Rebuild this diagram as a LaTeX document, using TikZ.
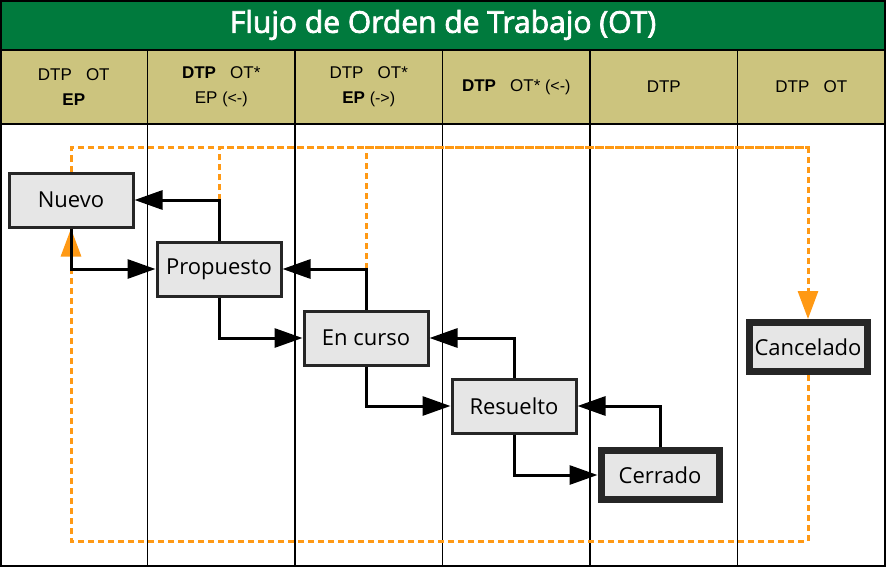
\documentclass[tikz,border=0pt]{standalone}
\usepackage{fontspec}
\usepackage{tikz}
\usepackage{xcolor}
\usetikzlibrary{arrows.meta}
\setmainfont{Open Sans}
\newfontfamily\headfont{Liberation Sans}
\newfontfamily\titlefont[FakeBold=2.5]{Open Sans}

\definecolor{otgreen}{RGB}{0,122,61}
\definecolor{otkhaki}{RGB}{204,196,126}
\definecolor{otgray}{RGB}{230,230,230}
\definecolor{otorange}{RGB}{255,153,20}

\begin{document}
\begin{tikzpicture}[x=1pt,y=-1pt,
  estado/.style={draw=black!85,fill=otgray,line width=3pt,minimum width=124pt,minimum height=54pt,
    font=\fontsize{22}{26}\selectfont},
  estadofinal/.style={estado,line width=7pt,minimum width=118pt,minimum height=49pt},
  flow/.style={line width=3pt,-{Triangle[length=28pt,width=19pt]}},
  cancelflow/.style={otorange,line width=3pt,dash pattern=on 6pt off 4pt,-{Triangle[length=28pt,width=20pt]}},
  cancelline/.style={otorange,line width=3pt,dash pattern=on 6pt off 4pt},
  headtxt/.style={align=center,font=\headfont\fontsize{17}{25}\selectfont}]
\useasboundingbox (0,0) rectangle (886,567);
% title and lane heads
\fill[otgreen] (0,0) rectangle (886,50);
\node[text=white,font=\titlefont\fontsize{30}{36}\selectfont] (titulo) at (443,25) {Flujo de Orden de Trabajo (OT)};
\fill[otkhaki] (0,50) rectangle (886,124);
\draw[line width=1.5pt] (0,50) -- (886,50);
\draw[line width=1.5pt] (0,124) -- (886,124);
\foreach \i in {1,...,5}
  \draw[line width=1.5pt] (\i*147.5,50) -- (\i*147.5,567);
\draw[line width=2.5pt] (1,1) rectangle (885,566);
\node[headtxt] (h1) at (73.75,87) {DTP\ \ \ OT\\\textbf{EP}};
\node[headtxt] (h2) at (221.25,87) {\textbf{DTP}\ \ \ OT*\\EP {\fontsize{16}{25}\selectfont(<-)}};
\node[headtxt] (h3) at (368.75,87) {DTP\ \ \ OT*\\\textbf{EP} {\fontsize{16}{25}\selectfont(->)}};
\node[headtxt] (h4) at (516.25,87) {\textbf{DTP}\ \ \ OT* {\fontsize{16}{25}\selectfont(<-)}};
\node[headtxt] (h5) at (663.75,87) {DTP};
\node[headtxt] (h6) at (811.25,87) {DTP\ \ \ OT};
% states
\node[estado] (nuevo) at (71,200) {Nuevo};
\node[estado] (propuesto) at (219,269) {Propuesto};
\node[estado] (encurso) at (366,338) {En curso};
\node[estado] (resuelto) at (514,406) {Resuelto};
\node[estadofinal] (cerrado) at (660,475) {Cerrado};
\node[estadofinal] (cancelado) at (808,347) {Cancelado};
\coordinate (arriba) at (0,148);
\coordinate (abajo) at (0,541);
% cancel paths
\draw[cancelline] (propuesto.north |- nuevo.east) -- (propuesto.north |- arriba) -- (cancelado.north |- arriba);
\draw[cancelline] (encurso.north |- propuesto.east) -- (encurso.north |- arriba) -- (cancelado.north |- arriba);
\draw[cancelflow] (nuevo.north) -- (nuevo.north |- arriba) -| (cancelado.north);
\draw[cancelflow] (cancelado.south) -- (cancelado.south |- abajo) -| (nuevo.south);
% forward and back
\draw[flow] (nuevo.south) |- (propuesto.west);
\draw[flow] (propuesto.north) |- (nuevo.east);
\draw[flow] (propuesto.south) |- (encurso.west);
\draw[flow] (encurso.north) |- (propuesto.east);
\draw[flow] (encurso.south) |- (resuelto.west);
\draw[flow] (resuelto.north) |- (encurso.east);
\draw[flow] (resuelto.south) |- (cerrado.west);
\draw[flow] (cerrado.north) |- (resuelto.east);
\end{tikzpicture}
\end{document}
